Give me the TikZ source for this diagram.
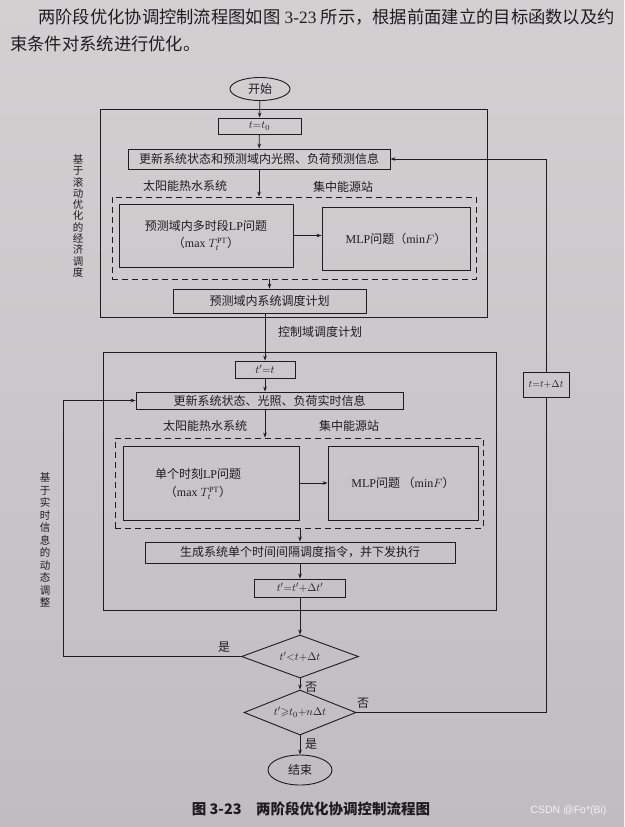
\documentclass[tikz,border=0pt]{standalone}
\usepackage{amssymb}
\usepackage{fontspec}
\setmainfont{Liberation Serif}
\newfontfamily\cjk{Noto Sans CJK SC}
\newfontfamily\marksf{Liberation Sans}
\usetikzlibrary{shapes.geometric,arrows.meta}
\newcommand{\zh}[1]{{\cjk #1}}
\definecolor{bgtop}{RGB}{212,208,210}
\definecolor{bgbot}{RGB}{192,188,192}
\definecolor{ink}{RGB}{30,28,32}

\begin{document}
\begin{tikzpicture}[x=1pt,y=-1pt,>={Stealth[length=5pt,width=3.6pt]},
  every node/.style={text=ink,font=\fontsize{12}{13}\selectfont},
  boxsize/.style 2 args={minimum width=#1pt,minimum height=#2pt},
  box/.style={draw=ink,line width=0.9pt,rectangle,inner sep=0pt},
  frame/.style={draw=ink,line width=0.8pt,rectangle,inner sep=0pt},
  dashbox/.style={draw=ink,line width=0.9pt,dash pattern=on 6pt off 4pt,rectangle,inner sep=0pt},
  term/.style={draw=ink,line width=0.9pt,ellipse,inner sep=0pt},
  test/.style={draw=ink,line width=0.9pt,diamond,aspect=2.6,inner sep=0pt},
  mathtext/.style={font=\fontsize{11}{12}\selectfont},
  flow/.style={draw=ink,line width=0.8pt}]

% page of the book
\useasboundingbox (0,0) rectangle (624,827);
\shade[top color=bgtop,bottom color=bgbot] (0,0) rectangle (624,827);
\node (para1) [anchor=west,inner sep=0pt,font=\fontsize{17.3}{20}\selectfont] at (38,17)
  {\zh{两阶段优化协调控制流程图如图} 3-23 \zh{所示，根据前面建立的目标函数以及约}};
\node (para2) [anchor=west,inner sep=0pt,font=\fontsize{17.3}{20}\selectfont] at (10,44)
  {\zh{束条件对系统进行优化。}};

% rolling optimisation stage
\node (start) [term,boxsize={60}{23}] at (260,89) {\zh{开始}};
\node (frame1) [frame,boxsize={387}{208}] at (293.5,213) {};
\node (t0) [box,mathtext,boxsize={83}{16}] at (259.5,126) {$t{=}t_0$};
\node (upd1) [box,boxsize={262}{20}] at (259,159) {\zh{更新系统状态和预测域内光照、负荷预测信息}};
\node (solar1) at (185,186) {\zh{太阳能热水系统}};
\node (station1) at (343,187) {\zh{集中能源站}};
\node (dash1) [dashbox,boxsize={364}{82}] at (294,238) {};
\node (lp1) [box,boxsize={174}{63},align=center,font=\fontsize{12}{17}\selectfont] at (206,235.5)
  {\zh{预测域内多时段}LP\zh{问题}\\\zh{（}max $T_t^{\mathrm{PT}}$\zh{）}};
\node (mlp1) [box,boxsize={148}{63}] at (396,238.5) {MLP\zh{问题（}min$F$\zh{）}};
\node (plan) [box,boxsize={193}{24}] at (269.5,301) {\zh{预测域内系统调度计划}};
\node (ctrl) at (320,332) {\zh{控制域调度计划}};
\node (roll) [align=center,inner sep=0pt,font=\cjk\fontsize{10.5}{11.3}\selectfont] at (78,216)
  {基\\于\\滚\\动\\优\\化\\的\\经\\济\\调\\度};

% real-time stage
\node (frame2) [frame,boxsize={393}{258}] at (299.5,481) {};
\node (tt) [box,mathtext,boxsize={60}{17}] at (265,369.5) {$t'{=}t$};
\node (upd2) [box,boxsize={267}{17}] at (269.5,400.5) {\zh{更新系统状态、光照、负荷实时信息}};
\node (solar2) at (205,426) {\zh{太阳能热水系统}};
\node (station2) at (349,426) {\zh{集中能源站}};
\node (dash2) [dashbox,boxsize={368}{90}] at (299,483) {};
\node (lp2) [box,boxsize={176}{74}] at (211,483) {};
\node (lp2txt) [align=center,font=\fontsize{12}{18}\selectfont] at (198,484)
  {\zh{单个时刻}LP\zh{问题}\\\zh{（}max $T_t^{\mathrm{PT}}$\zh{）}};
\node (mlp2) [box,boxsize={150}{74}] at (403,483) {MLP\zh{问题 （}min$F$\zh{）}};
\node (gen) [box,boxsize={310}{21}] at (300,552.5) {\zh{生成系统单个时间间隔调度指令，并下发执行}};
\node (tdt2) [box,mathtext,boxsize={91}{18}] at (300,588) {$t'{=}t'{+}\Delta t'$};
\node (realtime) [align=center,inner sep=0pt,font=\cjk\fontsize{10.5}{12.5}\selectfont] at (45,540)
  {基\\于\\实\\时\\信\\息\\的\\动\\态\\调\\整};

% decisions
\node (d1) [test,mathtext,boxsize={117}{43}] at (300,656.5) {$t'{<}t{+}\Delta t$};
\node (d2) [test,mathtext,boxsize={112}{45}] at (300,712.5) {$t'{\geqslant}t_0{+}n\Delta t$};
\node (end) [term,boxsize={64}{30}] at (300,770) {\zh{结束}};
\node (tdt) [box,font=\fontsize{10}{11}\selectfont,boxsize={46}{25}] at (546,384.5) {$t{=}t{+}\Delta t$};
\node (yes1) at (224,647) {\zh{是}};
\node (no1) at (311,687) {\zh{否}};
\node (no2) at (363,703) {\zh{否}};
\node (yes2) at (311,744) {\zh{是}};
\coordinate (loopL) at (63,656.5);
\coordinate (loopR) at (546,712.5);

% connectors
\draw[flow,->] (start) -- (t0);
\draw[flow,->] (t0) -- (upd1);
\draw[flow,->] (upd1.south) -- (upd1.south |- dash1.north);
\draw[flow,->] (lp1.east) -- (lp1.east -| mlp1.west);
\draw[flow,->] (dash1.south -| plan) -- (plan.north);
\draw[flow,->] (plan.south -| tt) -- (tt.north);
\draw[flow,->] (tt) -- (tt |- upd2.north);
\draw[flow,->] (tt |- upd2.south) -- (tt |- dash2.north);
\draw[flow,->] (lp2.east) -- (lp2.east -| mlp2.west);
\draw[flow,->] (tdt2 |- dash2.south) -- (tdt2 |- gen.north);
\draw[flow,->] (tdt2 |- gen.south) -- (tdt2.north);
\draw[flow,->] (tdt2) -- (d1);
\draw[flow,->] (d1) -- (d2);
\draw[flow,->] (d2) -- (end);
\draw[flow,->] (d1.west) -- (loopL) |- (upd2.west);
\draw[flow] (d2.east) -- (loopR) -- (tdt.south);
\draw[flow,->] (tdt.north) |- (upd1.east);

% caption and mark
\node (caption) [font=\cjk\bfseries\fontsize{14.5}{16}\selectfont] at (311,809)
  {图 3-23\quad 两阶段优化协调控制流程图};
\node (mark) [anchor=east,text=white!80!bgbot,font=\marksf\fontsize{10.5}{12}\selectfont] at (610,811)
  {CSDN @Fo*(Bi)};
\end{tikzpicture}
\end{document}
